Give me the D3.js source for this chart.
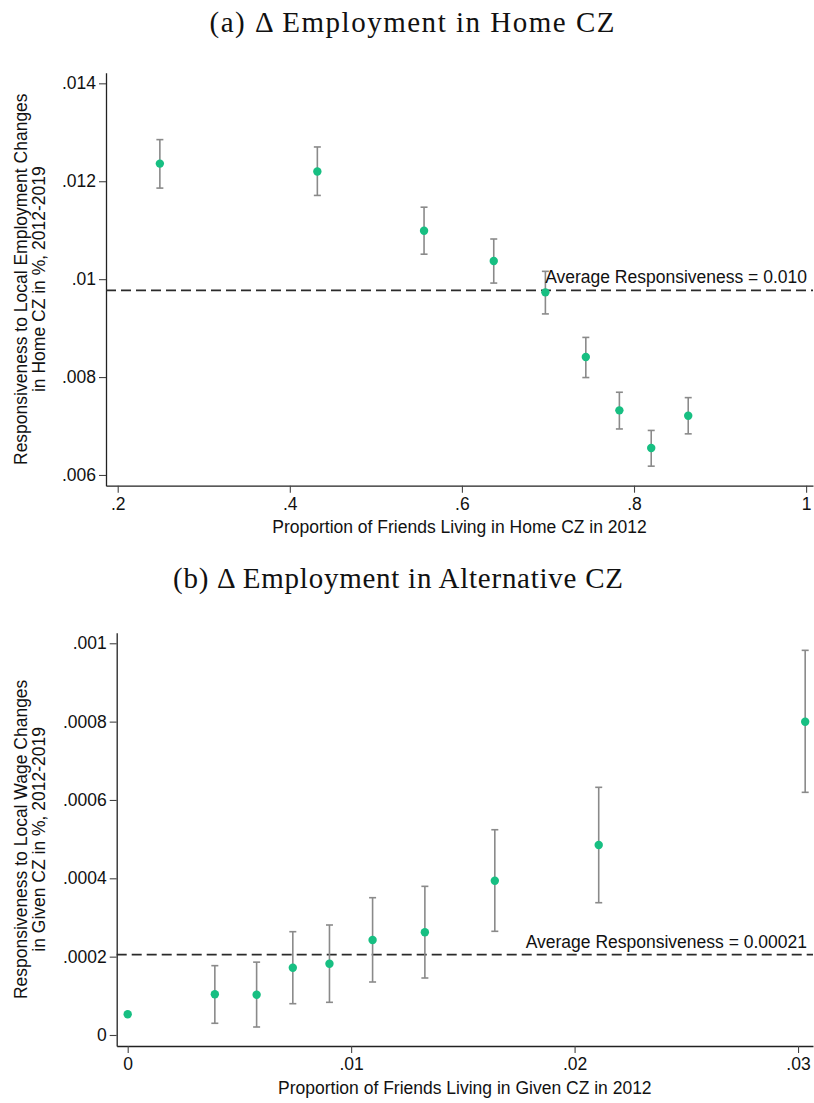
<!DOCTYPE html>
<html>
<head>
<meta charset="utf-8">
<script src="https://cdn.jsdelivr.net/npm/d3@7"></script>
<style>
  html, body { margin: 0; padding: 0; background: #fff; }
  svg text { font-family: "Liberation Sans", Arial, Helvetica, sans-serif; fill: #111; }
</style>
</head>
<body>
<svg id="chart" width="814" height="1103"></svg>
<script>
// ---- Panel (a) data ----
const topX  = [0.249, 0.432, 0.556, 0.637, 0.697, 0.744, 0.783, 0.820, 0.863];
const topY  = [0.01236, 0.01220, 0.01099, 0.01037, 0.00973, 0.00841, 0.00732, 0.00655, 0.00721];
const topLo = [0.01186, 0.01171, 0.01051, 0.00992, 0.00929, 0.00799, 0.00694, 0.00618, 0.00684];
const topHi = [0.01285, 0.01270, 0.01147, 0.01082, 0.01016, 0.00881, 0.00769, 0.00691, 0.00758];
const topAvg = 0.00977;
const topXTicks = [0.2, 0.4, 0.6, 0.8, 1];
const topYTicks = [0.006, 0.008, 0.010, 0.012, 0.014];
const topXTickLabels = [".2", ".4", ".6", ".8", "1"];
const topYTickLabels = [".006", ".008", ".01", ".012", ".014"];

// ---- Panel (b) data ----
const botX  = [0, 0.00390, 0.00577, 0.00739, 0.00903, 0.01096, 0.01330, 0.01643, 0.02108, 0.03032];
const botY  = [0.0000528, 0.0001039, 0.0001029, 0.0001718, 0.000182, 0.0002425, 0.0002622, 0.0003939, 0.000485, 0.0007998];
const botLo = [null, 0.0000299, 0.0000204, 0.0000799, 0.0000834, 0.0001353, 0.0001455, 0.0002647, 0.0003377, 0.0006195];
const botHi = [null, 0.000177, 0.000186, 0.0002637, 0.0002808, 0.0003505, 0.0003795, 0.000524, 0.0006323, 0.000982];
const botAvg = 0.000205;
const botXTicks = [0, 0.01, 0.02, 0.03];
const botYTicks = [0, 0.0002, 0.0004, 0.0006, 0.0008, 0.001];
const botXTickLabels = ["0", ".01", ".02", ".03"];
const botYTickLabels = ["0", ".0002", ".0004", ".0006", ".0008", ".001"];

const svg = d3.select("#chart");
const FS = 17.5;
const GREEN = "#17bf82";
const GRAY = "#8a8a8a";

function panel(cfg) {
  const x = d3.scaleLinear().domain(cfg.xDomain).range([cfg.left, cfg.right]);
  const y = d3.scaleLinear().domain(cfg.yDomain).range([cfg.bottom, cfg.top]);
  const g = svg.append("g");

  // title
  g.append("text")
    .attr("x", cfg.titleX).attr("y", cfg.titleY)
    .attr("text-anchor", "middle")
    .attr("textLength", cfg.titleLen)
    .style("font-size", "29px")
    .style("font-family", "'Liberation Serif', 'Times New Roman', serif")
    .text(cfg.title);

  // y axis
  const ya = g.append("g").attr("transform", `translate(${cfg.left},0)`)
    .call(d3.axisLeft(y).tickValues(cfg.yTicks)
      .tickFormat((d, i) => cfg.yTickLabels[i]).tickSize(7).tickPadding(3).tickSizeOuter(0));
  // x axis
  const xa = g.append("g").attr("transform", `translate(0,${cfg.bottom})`)
    .call(d3.axisBottom(x).tickValues(cfg.xTicks)
      .tickFormat((d, i) => cfg.xTickLabels[i]).tickSize(7).tickPadding(4.5).tickSizeOuter(0));
  [ya, xa].forEach(a => {
    a.selectAll("text").style("font-size", FS + "px").attr("fill", "#111");
    a.select(".domain").attr("stroke", "#222").attr("stroke-width", 1.3);
    a.selectAll(".tick line").attr("stroke", "#444").attr("stroke-width", 1.1);
  });

  // x title
  g.append("text").attr("x", (cfg.left + cfg.right) / 2).attr("y", cfg.bottom + 47.5)
    .attr("text-anchor", "middle").style("font-size", FS + "px").text(cfg.xTitle);

  // y title (two lines)
  const cy = (cfg.top + cfg.bottom) / 2;
  cfg.yTitle.forEach((t, i) => {
    g.append("text")
      .attr("transform", `translate(${26.5 + i * 18},${cy}) rotate(-90)`)
      .attr("text-anchor", "middle").style("font-size", FS + "px").text(t);
  });

  // average line
  g.append("line")
    .attr("x1", cfg.left).attr("x2", cfg.right)
    .attr("y1", y(cfg.avg)).attr("y2", y(cfg.avg))
    .attr("stroke", "#2a2a2a").attr("stroke-width", 1.7)
    .attr("stroke-dasharray", "10,5");

  // CIs
  const idx = d3.range(cfg.xs.length).filter(i => cfg.lo[i] != null);
  const ci = g.append("g").attr("stroke", GRAY).attr("stroke-width", 1.6);
  idx.forEach(i => {
    const cx = x(cfg.xs[i]);
    ci.append("line").attr("x1", cx).attr("x2", cx).attr("y1", y(cfg.lo[i])).attr("y2", y(cfg.hi[i]));
    ci.append("line").attr("x1", cx - 3.5).attr("x2", cx + 3.5).attr("y1", y(cfg.lo[i])).attr("y2", y(cfg.lo[i]));
    ci.append("line").attr("x1", cx - 3.5).attr("x2", cx + 3.5).attr("y1", y(cfg.hi[i])).attr("y2", y(cfg.hi[i]));
  });

  // average label
  g.append("text").attr("x", cfg.right - 6).attr("y", y(cfg.avg) - 7)
    .attr("text-anchor", "end").style("font-size", FS + "px").text(cfg.avgLabel);

  // points
  g.selectAll("circle.pt").data(cfg.xs).enter().append("circle")
    .attr("class", "pt")
    .attr("cx", d => x(d)).attr("cy", (d, i) => y(cfg.ys[i]))
    .attr("r", 4.2).attr("fill", GREEN);
}

panel({
  title: "(a) Δ Employment in Home CZ", titleX: 412, titleY: 32, titleLen: 405,
  left: 106, right: 813, top: 72.7, bottom: 485.7,
  xDomain: [0.1864, 1.008], yDomain: [0.005781, 0.014217],
  xTicks: topXTicks, yTicks: topYTicks, xTickLabels: topXTickLabels, yTickLabels: topYTickLabels,
  xTitle: "Proportion of Friends Living in Home CZ in 2012",
  yTitle: ["Responsiveness to Local Employment Changes", "in Home CZ in %, 2012-2019"],
  xs: topX, ys: topY, lo: topLo, hi: topHi, avg: topAvg,
  avgLabel: "Average Responsiveness = 0.010"
});

panel({
  title: "(b) Δ Employment in Alternative CZ", titleX: 398, titleY: 588, titleLen: 450,
  left: 116.7, right: 813, top: 632.7, bottom: 1046,
  xDomain: [-0.000492, 0.03067], yDomain: [-0.0000281, 0.001027],
  xTicks: botXTicks, yTicks: botYTicks, xTickLabels: botXTickLabels, yTickLabels: botYTickLabels,
  xTitle: "Proportion of Friends Living in Given CZ in 2012",
  yTitle: ["Responsiveness to Local Wage Changes", "in Given CZ in %, 2012-2019"],
  xs: botX, ys: botY, lo: botLo, hi: botHi, avg: botAvg,
  avgLabel: "Average Responsiveness = 0.00021"
});
</script>
</body>
</html>
